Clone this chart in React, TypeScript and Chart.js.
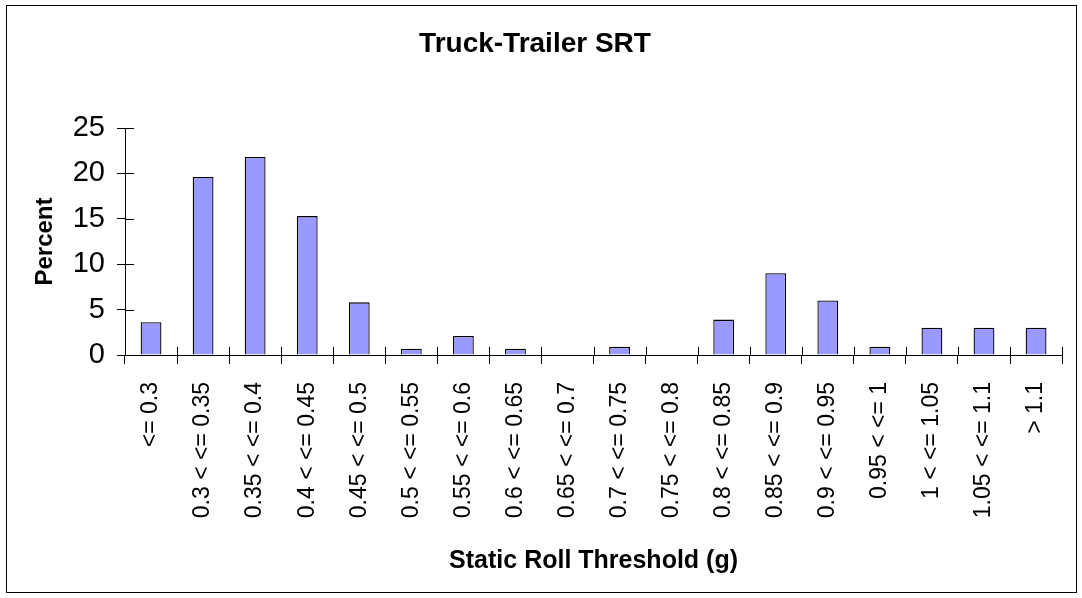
import React, { useEffect, useRef } from "react";
import { Chart, registerables } from "chart.js";

Chart.register(...registerables);

const categories = [
  "<= 0.3",
  "0.3 < <= 0.35",
  "0.35 < <= 0.4",
  "0.4 < <= 0.45",
  "0.45 < <= 0.5",
  "0.5 < <= 0.55",
  "0.55 < <= 0.6",
  "0.6 < <= 0.65",
  "0.65 < <= 0.7",
  "0.7 < <= 0.75",
  "0.75 < <= 0.8",
  "0.8 < <= 0.85",
  "0.85 < <= 0.9",
  "0.9 < <= 0.95",
  "0.95 < <= 1",
  "1 < <= 1.05",
  "1.05 < <= 1.1",
  "> 1.1",
];

const percentValues = [3.6, 19.6, 21.8, 15.3, 5.8, 0.7, 2.1, 0.7, 0, 0.9, 0, 3.9, 9.0, 6.0, 0.9, 3.0, 3.0, 3.0];

const yTickValues = [0, 5, 10, 15, 20, 25];

const FONT = "'Liberation Sans', Arial, sans-serif";

const frameAndTicks = {
  id: "frameAndTicks",
  beforeDraw(chart: any) {
    const ctx = chart.ctx;
    ctx.save();
    ctx.fillStyle = "#ffffff";
    ctx.fillRect(0, 0, chart.width, chart.height);
    ctx.strokeStyle = "#000000";
    ctx.lineWidth = 1;
    ctx.strokeRect(6.5, 5.5, chart.width - 12, chart.height - 11);
    ctx.restore();
  },
  afterDraw(chart: any) {
    const ctx = chart.ctx;
    const x = chart.scales.x;
    const y = chart.scales.y;
    ctx.save();
    ctx.strokeStyle = "#000000";
    ctx.lineWidth = 1;
    ctx.beginPath();
    // inward part of y ticks
    yTickValues.forEach((v) => {
      const py = Math.round(y.getPixelForValue(v)) + 0.5;
      ctx.moveTo(x.left, py);
      ctx.lineTo(x.left + 9, py);
    });
    // inward part of x ticks at category boundaries
    const n = categories.length;
    const w = (x.right - x.left) / n;
    for (let i = 0; i <= n; i++) {
      const px = Math.round(x.left + i * w) + 0.5;
      ctx.moveTo(px, y.bottom);
      ctx.lineTo(px, y.bottom - 8);
    }
    ctx.stroke();
    ctx.restore();
  },
};

export default function App() {
  const ref = useRef<HTMLCanvasElement | null>(null);

  useEffect(() => {
    if (!ref.current) return;
    const chart = new Chart(ref.current, {
      type: "bar",
      data: {
        labels: categories,
        datasets: [
          {
            label: "Percent",
            data: percentValues,
            backgroundColor: "#9999FF",
            borderColor: "#000000",
            borderWidth: 1.3,
            barPercentage: 0.4,
            categoryPercentage: 1.0,
          },
        ],
      },
      options: {
        animation: false,
        responsive: false,
        maintainAspectRatio: false,
        layout: { padding: { left: 0, right: 12, top: 0, bottom: 0 } },
        plugins: {
          legend: { display: false },
          tooltip: { enabled: false },
          title: {
            display: true,
            text: "Truck-Trailer SRT",
            color: "#000000",
            font: { family: FONT, size: 28, weight: "bold", lineHeight: 1.2 },
            padding: { top: 27, bottom: 67.4 },
          },
        },
        scales: {
          x: {
            afterFit: (s: any) => {
              s.height = 243;
            },
            grid: {
              display: true,
              drawOnChartArea: false,
              drawTicks: true,
              tickLength: 9,
              color: "#000000",
              offset: true,
            },
            border: { display: true, color: "#000000", width: 1 },
            ticks: {
              color: "#000000",
              font: { family: FONT, size: 23 },
              minRotation: 90,
              maxRotation: 90,
              padding: 18,
              autoSkip: false,
            },
            title: {
              display: true,
              text: "Static Roll Threshold (g)",
              color: "#000000",
              font: { family: FONT, size: 25, weight: "bold", lineHeight: 1.2 },
              padding: { top: 0, bottom: 22 },
            },
          },
          y: {
            min: 0,
            max: 25,
            afterFit: (s: any) => {
              s.width = 125;
            },
            afterBuildTicks: (s: any) => {
              s.ticks = yTickValues.map((v) => ({ value: v }));
            },
            grid: {
              display: true,
              drawOnChartArea: false,
              drawTicks: true,
              tickLength: 8,
              color: "#000000",
            },
            border: { display: true, color: "#000000", width: 1 },
            ticks: {
              color: "#000000",
              font: { family: FONT, size: 29 },
              padding: 12,
            },
            title: {
              display: true,
              text: "Percent",
              color: "#000000",
              font: { family: FONT, size: 24, weight: "bold", lineHeight: 1.2 },
              padding: { top: 31, bottom: 0 },
            },
          },
        },
      },
      plugins: [frameAndTicks],
    });
    return () => chart.destroy();
  }, []);

  return (
    <div style={{ position: "absolute", left: 0, top: 0, width: 1082, height: 598 }}>
      <canvas ref={ref} width={1082} height={598} style={{ display: "block" }} />
    </div>
  );
}
